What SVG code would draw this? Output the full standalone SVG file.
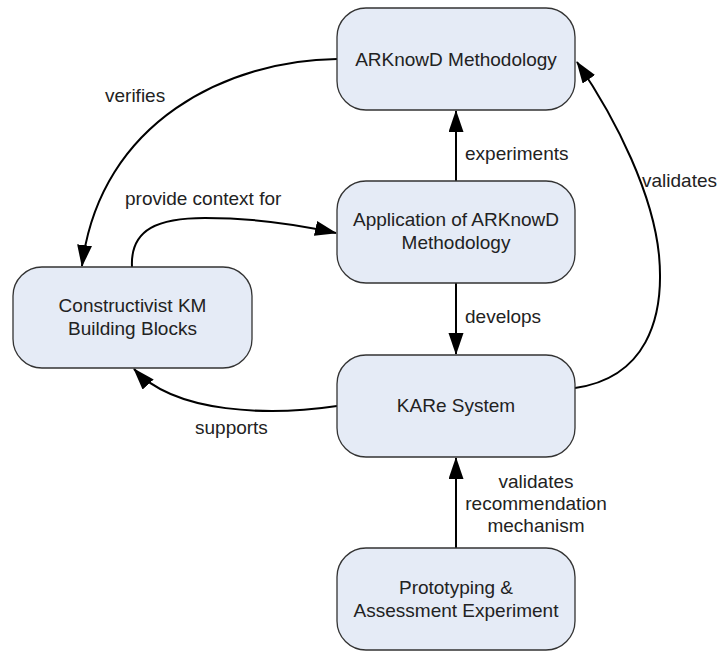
<svg xmlns="http://www.w3.org/2000/svg" width="718" height="651" viewBox="0 0 718 651">
  <style>
    .node rect { fill: #e5ebf6; stroke: #333333; stroke-width: 1.3; }
    .node text { font-family: "Liberation Sans", Arial, sans-serif; font-size: 19px; fill: #222222; text-anchor: middle; }
    .edge { fill: none; stroke: #000000; stroke-width: 2; marker-end: url(#arrow); }
    .label { font-family: "Liberation Sans", Arial, sans-serif; font-size: 19px; fill: #222222; }
  </style>
  <defs>
    <marker id="arrow" markerUnits="userSpaceOnUse" markerWidth="23" markerHeight="16" refX="21" refY="7.5" orient="auto">
      <path d="M0,0 L22,7.5 L0,15 z" fill="#000000"/>
    </marker>
  </defs>
  <rect width="718" height="651" fill="#ffffff"/>

  <!-- connectors -->
  <g id="connectors">
    <path class="edge" d="M456,181 L456,111"/>
    <path class="edge" d="M456,283 L456,354"/>
    <path class="edge" d="M456,548 L456,458"/>
    <path class="edge" d="M575,388 C645,378 665,320 659,255 C653,195 618,122 577,62"/>
    <path class="edge" d="M337,59 C230,60 100,120 82,266"/>
    <path class="edge" d="M132,267 C130,228 160,218 205,218 C255,218 300,225 336,233"/>
    <path class="edge" d="M337,406 C270,416 175,414 134,369"/>

    <text class="label" x="465" y="160">experiments</text>
    <text class="label" x="465" y="323">develops</text>
    <text class="label" x="642" y="187">validates</text>
    <text class="label" x="105" y="102">verifies</text>
    <text class="label" x="125" y="205">provide context for</text>
    <text class="label" x="195" y="434">supports</text>
    <text class="label" text-anchor="middle" x="536" y="488">validates</text>
    <text class="label" text-anchor="middle" x="536" y="510">recommendation</text>
    <text class="label" text-anchor="middle" x="536" y="532">mechanism</text>
  </g>

  <!-- nodes -->
  <g id="arknowd" class="node">
    <rect x="337" y="8" width="238" height="102" rx="29" ry="29"/>
    <text x="456" y="66">ARKnowD Methodology</text>
  </g>
  <g id="application" class="node">
    <rect x="337" y="181" width="238" height="102" rx="29" ry="29"/>
    <text x="456" y="226">Application of ARKnowD</text>
    <text x="456" y="249">Methodology</text>
  </g>
  <g id="kare" class="node">
    <rect x="337" y="355" width="238" height="102" rx="29" ry="29"/>
    <text x="456" y="412">KARe System</text>
  </g>
  <g id="prototyping" class="node">
    <rect x="337" y="548" width="238" height="102" rx="29" ry="29"/>
    <text x="456" y="594">Prototyping &amp;</text>
    <text x="456" y="617">Assessment Experiment</text>
  </g>
  <g id="constructivist" class="node">
    <rect x="13" y="267" width="239" height="101" rx="29" ry="29"/>
    <text x="132.5" y="312">Constructivist KM</text>
    <text x="132.5" y="335">Building Blocks</text>
  </g>
</svg>
